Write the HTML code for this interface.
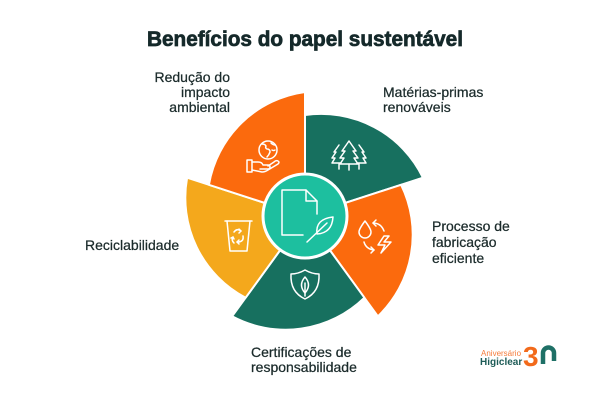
<!DOCTYPE html>
<html>
<head>
<meta charset="utf-8">
<style>
  html,body{margin:0;padding:0;background:#ffffff;}
  body{width:600px;height:400px;overflow:hidden;}
  svg{display:block;}
  .lbl{font-family:"Liberation Sans",sans-serif;font-size:14px;fill:#1b2b2b;stroke:#1b2b2b;stroke-width:0.25;}
  .ic{fill:none;stroke:#ffffff;stroke-width:1.5;stroke-linecap:round;stroke-linejoin:round;}
</style>
</head>
<body>
<svg width="600" height="400" viewBox="0 0 600 400" xmlns="http://www.w3.org/2000/svg">
  <rect width="600" height="400" fill="#ffffff"/>

  <!-- Title -->
  <text x="147" y="46" font-family="Liberation Sans, sans-serif" font-weight="bold" font-size="21" fill="#15292a" stroke="#15292a" stroke-width="0.7" textLength="316" lengthAdjust="spacingAndGlyphs">Benefícios do papel sustentável</text>

  <!-- Sectors -->
  <g stroke="#ffffff" stroke-width="2" stroke-linejoin="round">
    <path d="M305 216 L305 115 A113 113 0 0 1 422.9 177.7 Z" fill="#17705f"/>
    <path d="M305 216 L401.1 184.8 A113 113 0 0 1 377.9 316.3 Z" fill="#fb6a0d"/>
    <path d="M305 216 L364.4 297.7 A113 113 0 0 1 232.1 316.3 Z" fill="#17705f"/>
    <path d="M305 216 L245.6 297.7 A113 113 0 0 1 187.1 177.7 Z" fill="#f4a81c"/>
    <path d="M305 216 L208.9 184.8 A113 113 0 0 1 305 92 Z" fill="#fb6a0d"/>
  </g>

  <!-- Center circle -->
  <circle cx="305" cy="216" r="42" fill="#1dbf9f" stroke="#ffffff" stroke-width="3"/>

  <!-- Center icon: document + leaf -->
  <g class="ic" stroke-width="1.5">
    <path d="M303 235 H282 V190 H306 L317 201 V214"/>
    <path d="M306 190 V201 H317"/>
    <path d="M317 234 Q315 219 333 217 Q332 233 317 234 Z"/>
    <path d="M307 242 L327 223"/>
  </g>

  <!-- Globe + hand -->
  <g class="ic">
    <circle cx="268" cy="150" r="9"/>
    <path d="M262 144 q3 0 4 2 q-1 2 1 3 q3 0 3 3 q-1 3 -3 5"/>
    <path d="M271 143 q2 2 4 2 M272 150 q2 1 3 0"/>
    <rect x="247" y="160" width="5" height="12"/>
    <path d="M252 162 h6 q4 0 5 3 h5 q2 0 2 2 q0 2 -2 2 h-8"/>
    <path d="M252 170 l10 2 q3 0 6 -2 l10 -6 q2 -2 0 -3 q-2 -1 -4 1 l-6 4"/>
  </g>

  <!-- Trees -->
  <g class="ic">
    <path d="M339 145 l-5 7 h2 l-4 6 h3 l-3 5 h9"/>
    <path d="M359 145 l5 7 h-2 l4 6 h-3 l3 5 h-9"/>
    <path d="M349 141 l-7 10 h3 l-5 7 h4 l-4 6 h18 l-4 -6 h4 l-5 -7 h3 z"/>
    <path d="M349 164 v6 M339 164 v5 M359 164 v5"/>
  </g>

  <!-- Recycle bin -->
  <g class="ic">
    <path d="M225 221 h27"/>
    <path d="M227 221 l3 30 h17 l3 -30"/>
    <path d="M234 232 q3 -4 7 -1"/>
    <path d="M239 229 l2 2 l-2 2"/>
    <path d="M243 236 q1 5 -4 6 h-2"/>
    <path d="M239 240 l-2 2 l2 2"/>
    <path d="M234 243 q-3 -3 -1 -6"/>
    <path d="M231 238 l2 -1 l1 2"/>
  </g>

  <!-- Shield -->
  <g class="ic">
    <path d="M305 270 Q298 274 291 274 Q290 292 305 299 Q320 292 319 274 Q312 274 305 270 Z"/>
    <path d="M305 277 Q298 285 305 293 Q312 285 305 277 Z"/>
    <path d="M305 283 V296"/>
  </g>

  <!-- Water / energy -->
  <g class="ic">
    <path d="M365 221 Q359 229 359 232 A6 6 0 0 0 371 232 Q371 229 365 221 Z"/>
    <path d="M384 236 L378 245 H385 L381 253 L391 242 H384 L389 236 Z"/>
    <path d="M373 223 q8 0 11 8"/>
    <path d="M376 220 l-3 3 l3 3"/>
    <path d="M364 242 q2 7 10 8"/>
    <path d="M371 247 l3 3 l-3 3"/>
  </g>

  <!-- Labels -->
  <text class="lbl" x="230" y="82" text-anchor="end">Redução do</text>
  <text class="lbl" x="230" y="97" text-anchor="end">impacto</text>
  <text class="lbl" x="230" y="112" text-anchor="end">ambiental</text>

  <text class="lbl" x="383" y="97">Matérias-primas</text>
  <text class="lbl" x="383" y="112">renováveis</text>

  <text class="lbl" x="85" y="250">Reciclabilidade</text>

  <text class="lbl" x="432" y="231">Processo de</text>
  <text class="lbl" x="432" y="247">fabricação</text>
  <text class="lbl" x="432" y="263">eficiente</text>

  <text class="lbl" x="251" y="357">Certificações de</text>
  <text class="lbl" x="251" y="372">responsabilidade</text>

  <!-- Logo -->
  <text x="481" y="356" font-family="Liberation Sans, sans-serif" font-size="8" fill="#f57b3a">Aniversário</text>
  <text x="480" y="365" font-family="Liberation Sans, sans-serif" font-weight="bold" font-size="10" fill="#1e5c57">Higiclear</text>
  <text x="523" y="366" font-family="Liberation Sans, sans-serif" font-weight="bold" font-size="28" fill="#f26a1b">3</text>
  <path d="M543 364 V353 A5.5 5.5 0 0 1 554 353 V361" fill="none" stroke="#1e7066" stroke-width="4.5"/>
</svg>
</body>
</html>
